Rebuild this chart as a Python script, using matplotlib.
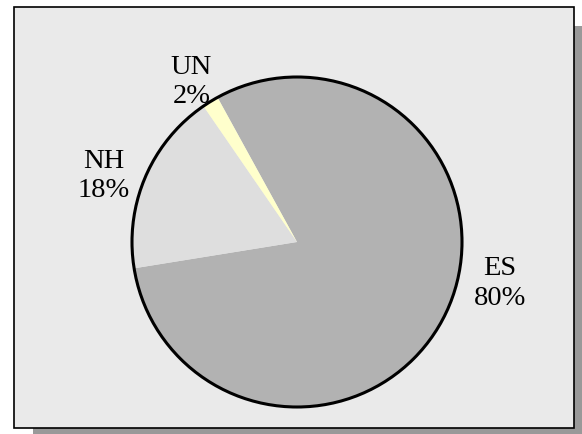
import matplotlib
matplotlib.use("Agg")
import matplotlib.pyplot as plt
from matplotlib.patches import Rectangle, Circle
import numpy as np

# Data
categories = ["ES", "NH", "UN"]
values = [80.45, 17.95, 1.6]

# Styling
colors = ["#b2b2b2", "#dedede", "#ffffcc"]
label_offsets = [(1.23, -0.25), (-1.17, 0.40), (-0.64, 0.97)]  # in pie radii
W, H = 582, 434

fig = plt.figure(figsize=(W / 100, H / 100), dpi=100)
fig.patch.set_facecolor("white")

def fx(x):
    return x / W

def fy(y):
    return 1 - y / H

# shadow
fig.patches.append(Rectangle((fx(33), fy(447)), fx(560), 421 / H, transform=fig.transFigure,
                             facecolor="#999999", edgecolor="none", zorder=-2))
# frame
fig.patches.append(Rectangle((fx(14), fy(428)), fx(560), 421 / H, transform=fig.transFigure,
                             facecolor="#eaeaea", edgecolor="black", linewidth=1.2, zorder=-1))

cx, cy, r = 297, 242, 165
ax = fig.add_axes([fx(cx - r), fy(cy + r), 2 * r / W, 2 * r / H])
ax.set_zorder(5)
ax.axis("off")
ax.patch.set_visible(False)

wedges, _ = ax.pie(values, colors=colors, startangle=118.8, counterclock=False,
                   radius=1, center=(0, 0), wedgeprops=dict(linewidth=0, antialiased=True))
for w in wedges:
    w.set_clip_on(False)
ax.set_xlim(-1, 1)
ax.set_ylim(-1, 1)
ax.set_aspect("equal")
ax.add_patch(Circle((0, 0), 1, facecolor="none", edgecolor="black", linewidth=2.2,
                    zorder=5, clip_on=False))

total = sum(values)
for cat, v, (ox, oy) in zip(categories, values, label_offsets):
    ax.text(ox, oy, f"{cat}\n{v / total * 100:.0f}%", ha="center", va="center",
            fontsize=20.5, family="Liberation Serif", linespacing=1.25, clip_on=False)

fig.savefig("out.png", dpi=100)
